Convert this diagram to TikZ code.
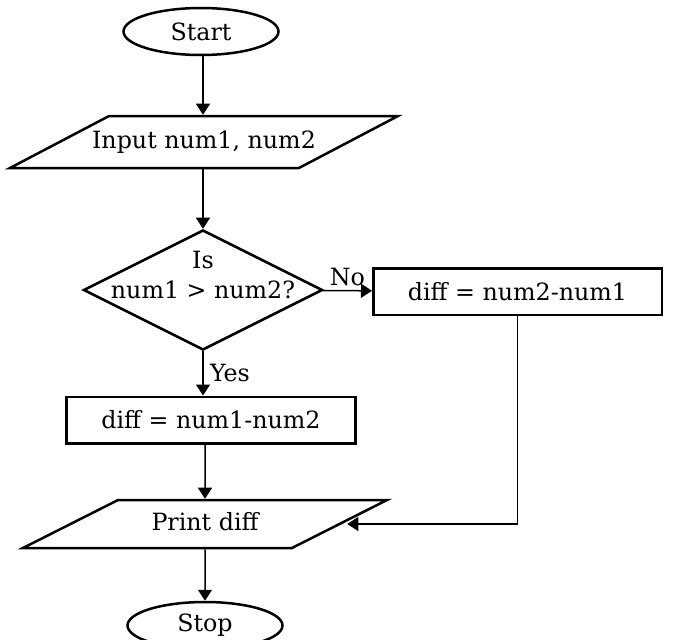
\documentclass[tikz,border=0pt]{standalone}
\usepackage{fontspec}
\setmainfont{DejaVu Serif}
\usepackage{tikz}
\usetikzlibrary{positioning,shapes.geometric,arrows.meta}

\begin{document}
\begin{tikzpicture}[x=0.4pt,y=-0.4pt,
		font=\fontsize{9.5}{12}\selectfont,
		>={Triangle[length=4.4pt,width=5.6pt]},
		term/.style={
			draw,
			ellipse,
			line width=1pt,
			minimum width=62pt,
			minimum height=18.8pt,
			inner sep=0pt
		},
		io/.style={
			draw,
			trapezium,
			trapezium stretches body,
			line width=1pt,
			text height=7pt,
			text depth=2pt,
			inner xsep=0pt
		},
		proc/.style={
			draw,
			rectangle,
			line width=1pt,
			minimum width=115.4pt,
			minimum height=18.6pt,
			inner sep=0pt
		},
		decis/.style={
			draw,
			diamond,
			line width=1pt,
			minimum width=95.6pt,
			minimum height=48pt,
			inner sep=0pt
		},
		arr/.style={->,line width=0.6pt}
		]
		
		\useasboundingbox (0,0) rectangle (674,640);
		
		\node[term] (start) at (201,31.5) {Start};
		\node[io, trapezium left angle=27.7, trapezium right angle=152.3,
			inner ysep=5.9pt, inner xsep=-7pt, minimum width=155.2pt] (inp) at (204,142) {Input num1, num2};
		
		\node[decis] (dec) at (203,290) {};
		\node[align=center] (dectxt) at (203,275) {Is\\num1 > num2?};
		
		\node[proc] (diffb) at (517.5,291.5) {diff = num2-num1};
		\node[proc] (diffa) at (211,420) {diff = num1-num2};
		
		\node[io, trapezium left angle=26.8, trapezium right angle=153.2,
			inner ysep=5.1pt, minimum width=145.6pt] (prnt) at (205,524) {Print diff};
		\node[term] (stop) at (205,625.5) {Stop};
		
		\draw[arr] (start.south -| dec.north) -- (dec.north |- inp.north);
		\draw[arr] (dec.north |- inp.south) -- (dec);
		\draw[arr] (dec) -- node[above, inner sep=1.5pt] {No} (diffb);
		\draw[arr] (dec.south) -- node[right, inner sep=2.5pt] {Yes} (dec.south |- diffa.north);
		\draw[arr] (diffa.south -| prnt.north) -- (prnt);
		\draw[arr, shorten >=2pt] (diffb) |- (prnt.east);
		\draw[arr] (prnt) -- (stop);
		
\end{tikzpicture}
\end{document}
